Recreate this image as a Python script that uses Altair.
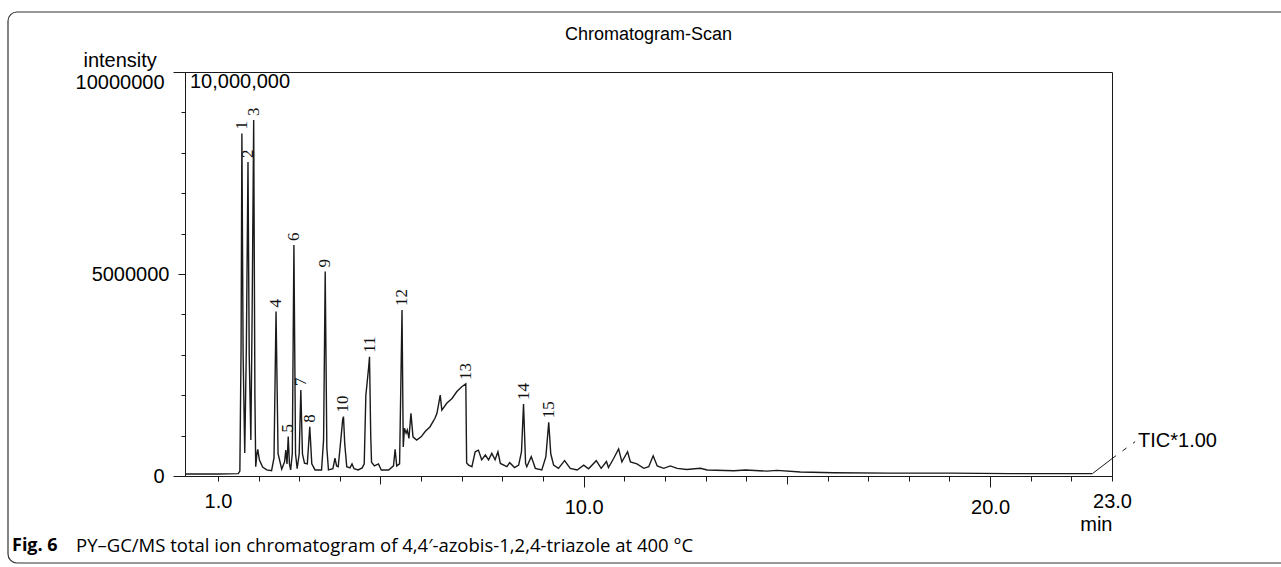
import altair as alt
import pandas as pd

# ---------------- data ----------------
# retention time (min)
time_min = [0.19, 1.00, 1.50, 1.54, 1.57, 1.59, 1.62, 1.66, 1.70, 1.74, 1.77, 1.81, 1.84, 1.88,
            1.91, 1.93, 1.96, 1.98, 2.02, 2.10, 2.20, 2.32, 2.38, 2.43, 2.48, 2.57, 2.64, 2.67,
            2.70, 2.73, 2.76, 2.79, 2.83, 2.87, 2.91, 2.95, 3.00, 3.04, 3.08, 3.13, 3.20, 3.26,
            3.31, 3.39, 3.55, 3.60, 3.64, 3.68, 3.72, 3.83, 3.88, 3.92, 3.96, 4.02, 4.07, 4.09,
            4.12, 4.17, 4.25, 4.30, 4.35, 4.45, 4.55, 4.60, 4.64, 4.67, 4.71, 4.73, 4.76, 4.78,
            4.85, 4.95, 5.02, 5.20, 5.32, 5.36, 5.40, 5.47, 5.53, 5.56, 5.59, 5.63, 5.66, 5.70,
            5.75, 5.80, 5.89, 6.00, 6.10, 6.22, 6.34, 6.39, 6.47, 6.51, 6.63, 6.76, 6.88, 7.00,
            7.10, 7.12, 7.17, 7.25, 7.33, 7.41, 7.49, 7.58, 7.66, 7.74, 7.82, 7.89, 7.95, 8.11,
            8.18, 8.30, 8.40, 8.47, 8.52, 8.57, 8.60, 8.71, 8.81, 8.97, 9.07, 9.14, 9.19, 9.26,
            9.38, 9.53, 9.67, 9.84, 10.00, 10.12, 10.31, 10.43, 10.56, 10.61, 10.74, 10.86, 10.94,
            11.08, 11.15, 11.31, 11.48, 11.60, 11.71, 11.81, 11.97, 12.13, 12.30, 12.54, 12.87,
            13.04, 13.70, 13.98, 14.51, 14.76, 15.33, 16.16, 17.50, 19.03, 20.50, 22.00, 22.52]
# total ion current, millions of counts
tic_million = [0.05, 0.05, 0.06, 0.12, 3.2, 8.48, 3.0, 0.57, 3.2, 7.77, 3.0, 0.89, 3.8, 8.81,
               2.0, 0.23, 0.55, 0.66, 0.40, 0.22, 0.15, 0.13, 0.45, 4.07, 0.55, 0.17, 0.35, 0.64,
               0.30, 0.98, 0.30, 0.15, 0.55, 5.72, 0.55, 0.18, 0.55, 2.13, 0.55, 0.32, 0.30, 1.22,
               0.30, 0.15, 0.15, 0.90, 5.06, 0.70, 0.15, 0.18, 0.44, 0.25, 0.23, 0.85, 1.40, 1.47,
               0.80, 0.23, 0.20, 0.30, 0.18, 0.15, 0.20, 0.30, 2.00, 2.30, 2.70, 2.95, 1.00, 0.34,
               0.25, 0.30, 0.15, 0.15, 0.25, 0.66, 0.25, 0.30, 4.11, 0.72, 1.18, 1.06, 1.14, 0.93,
               1.55, 0.97, 0.89, 0.97, 1.10, 1.22, 1.43, 1.55, 2.00, 1.63, 1.80, 1.92, 2.09, 2.21,
               2.28, 0.32, 0.27, 0.23, 0.60, 0.64, 0.40, 0.52, 0.40, 0.56, 0.40, 0.60, 0.31, 0.23,
               0.33, 0.21, 0.27, 0.60, 1.78, 0.31, 0.23, 0.48, 0.19, 0.15, 0.48, 1.33, 0.55, 0.27,
               0.19, 0.38, 0.19, 0.15, 0.27, 0.18, 0.38, 0.19, 0.36, 0.21, 0.44, 0.67, 0.35,
               0.60, 0.35, 0.30, 0.19, 0.23, 0.50, 0.25, 0.19, 0.25, 0.19, 0.16, 0.19,
               0.15, 0.13, 0.15, 0.12, 0.14, 0.10, 0.08, 0.07, 0.07, 0.06, 0.06, 0.06]

# numbered peaks (apex time, apex intensity in millions)
peak_label = ["1", "2", "3", "4", "5", "6", "7", "8", "9", "10", "11", "12", "13", "14", "15"]
peak_time = [1.59, 1.74, 1.88, 2.43, 2.73, 2.87, 3.04, 3.26, 3.64, 4.09, 4.73, 5.53, 7.10, 8.52, 9.14]
peak_million = [8.48, 7.77, 8.81, 4.07, 0.98, 5.72, 2.13, 1.22, 5.06, 1.47, 2.95, 4.11, 2.28, 1.78, 1.33]

# leader line from the end of the trace to the "TIC*1.00" tag
leader_solid_time = [22.52, 23.0]
leader_solid_million = [0.06, 0.43]
leader_dash_time = [23.0, 23.57]
leader_dash_million = [0.43, 0.85]
tag_text = ["TIC*1.00"]
tag_time = [23.64]
tag_million = [0.87]

# axis ticks and labels
x_ticks = [1, 2, 3, 4, 5, 6, 7, 8, 9, 10, 11, 12, 13, 14, 15, 16, 17, 18, 19, 20, 21, 22, 23]
x_labelled = [1, 10, 20, 23]
y_ticks = [0, 1000000, 2000000, 3000000, 4000000, 5000000, 6000000, 7000000, 8000000,
           9000000, 10000000]
x_domain = [0.19, 23.0]
y_domain = [0, 10000000]

title_text = "Chromatogram-Scan"
scale_text = "10,000,000"
caption_bold = "Fig. 6"
caption_rest = "PY\u2013GC/MS total ion chromatogram of 4,4\u2032-azobis-1,2,4-triazole at 400 \u00b0C"

# ---------------- tables ----------------
M = 1_000_000
trace_df = pd.DataFrame({"t": time_min, "I": [v * M for v in tic_million]})
peaks_df = pd.DataFrame({"label": peak_label, "t": peak_time, "I": [v * M for v in peak_million]})
solid_df = pd.DataFrame({"t": leader_solid_time, "I": [v * M for v in leader_solid_million]})
dash_df = pd.DataFrame({"t": leader_dash_time, "I": [v * M for v in leader_dash_million]})
tag_df = pd.DataFrame({"text": tag_text, "t": tag_time, "I": [v * M for v in tag_million]})
scale_df = pd.DataFrame({"text": [scale_text], "t": [x_domain[0]], "I": [y_domain[1]]})
title_df = pd.DataFrame({"text": [title_text]})
cap_b_df = pd.DataFrame({"text": [caption_bold]})
cap_r_df = pd.DataFrame({"text": [caption_rest]})
frame_df = pd.DataFrame({"k": [0]})

W, H = 927, 404
LEFT, TOP = 185, 72
SANS = "Liberation Sans"
INK = "#1a1a1a"

xs = alt.Scale(domain=x_domain, nice=False, zero=False)
ys = alt.Scale(domain=y_domain, nice=False, zero=False)

x_axis = alt.Axis(
    values=x_ticks,
    labelExpr="indexof([1, 10, 20, 23], datum.value) >= 0 ? format(datum.value, '.1f') : ''",
    labelOverlap=False, labelFlush=False, labelFont=SANS, labelFontSize=20,
    labelColor="black", labelPadding=10,
    tickSize={"condition": [{"test": "datum.value === 10 || datum.value === 20", "value": 11},
                            {"test": "datum.value === 5 || datum.value === 15", "value": 8}],
              "value": 5},
    tickColor=INK, domainColor=INK, grid=False,
    title="min", titleFont=SANS, titleFontSize=20, titleFontWeight="normal", titleColor="black",
    titleAnchor="end", titleAlign="right", titleBaseline="alphabetic", titleX=W, titleY=54,
)
y_axis = alt.Axis(
    values=y_ticks,
    labelExpr="datum.value % 5000000 === 0 ? format(datum.value, 'd') : ''",
    labelOverlap=False, labelFlush=False, labelFont=SANS, labelFontSize=20,
    labelColor="black", labelPadding=9,
    labelBaseline={"condition": {"test": "datum.value === 10000000", "value": "top"},
                   "value": "middle"},
    tickSize={"condition": [{"test": "datum.value === 5000000", "value": 7},
                            {"test": "datum.value === 0 || datum.value === 10000000", "value": 12}],
              "value": 4},
    tickColor=INK, domainColor=INK, grid=False,
    title="intensity", titleFont=SANS, titleFontSize=20, titleFontWeight="normal",
    titleColor="black", titleAngle=0, titleAlign="left", titleBaseline="alphabetic",
    titleX=83 - LEFT, titleY=-6,
)

trace = alt.Chart(trace_df).mark_line(color=INK, strokeWidth=1.4).encode(
    x=alt.X("t:Q", scale=xs, axis=x_axis),
    y=alt.Y("I:Q", scale=ys, axis=y_axis),
)

peak_text = alt.Chart(peaks_df).mark_text(
    angle=270, align="left", baseline="middle", dx=4,
    font="Liberation Serif", fontSize=17, color="#111111",
).encode(x=alt.X("t:Q", scale=xs), y=alt.Y("I:Q", scale=ys), text="label:N")

leader_solid = alt.Chart(solid_df).mark_line(color=INK, strokeWidth=1).encode(
    x=alt.X("t:Q", scale=xs), y=alt.Y("I:Q", scale=ys))
leader_dash = alt.Chart(dash_df).mark_line(color=INK, strokeWidth=1, strokeDash=[5, 8]).encode(
    x=alt.X("t:Q", scale=xs), y=alt.Y("I:Q", scale=ys))

tag = alt.Chart(tag_df).mark_text(
    align="left", baseline="middle", font=SANS, fontSize=20, color="black",
).encode(x=alt.X("t:Q", scale=xs), y=alt.Y("I:Q", scale=ys), text="text:N")

scale_note = alt.Chart(scale_df).mark_text(
    align="left", baseline="top", dx=5, font=SANS, fontSize=20, color="black",
).encode(x=alt.X("t:Q", scale=xs), y=alt.Y("I:Q", scale=ys), text="text:N")

title_mark = alt.Chart(title_df).mark_text(
    align="center", baseline="alphabetic", font=SANS, fontSize=18, color="black",
).encode(x=alt.value(W / 2), y=alt.value(40 - TOP), text="text:N")

cap_bold = alt.Chart(cap_b_df).mark_text(
    align="left", baseline="middle", font="Open Sans", fontSize=18, fontWeight="bold",
    color="black",
).encode(x=alt.value(12 - LEFT), y=alt.value(546 - TOP), text="text:N")

cap_rest = alt.Chart(cap_r_df).mark_text(
    align="left", baseline="middle", font="Open Sans", fontSize=18.5, color="black",
).encode(x=alt.value(76 - LEFT), y=alt.value(546 - TOP), text="text:N")

frame = alt.Chart(frame_df).mark_rect(
    fill=None, fillOpacity=0, stroke="#333333", strokeWidth=1.2, cornerRadius=9,
).encode(x=alt.value(8 - LEFT), x2=alt.value(1300 - LEFT),
         y=alt.value(12 - TOP), y2=alt.value(563 - TOP))

chart = alt.layer(
    frame, trace, leader_solid, leader_dash, peak_text, tag, scale_note, title_mark,
    cap_bold, cap_rest,
).properties(
    width=W, height=H,
    autosize=alt.AutoSizeParams(type="none"),
    padding={"left": LEFT, "top": TOP, "right": 1281 - LEFT - W, "bottom": 567 - TOP - H},
    background="white",
).configure_view(stroke=INK, strokeWidth=1)

chart.save("out.html", embed_options={"renderer": "svg", "actions": False})
